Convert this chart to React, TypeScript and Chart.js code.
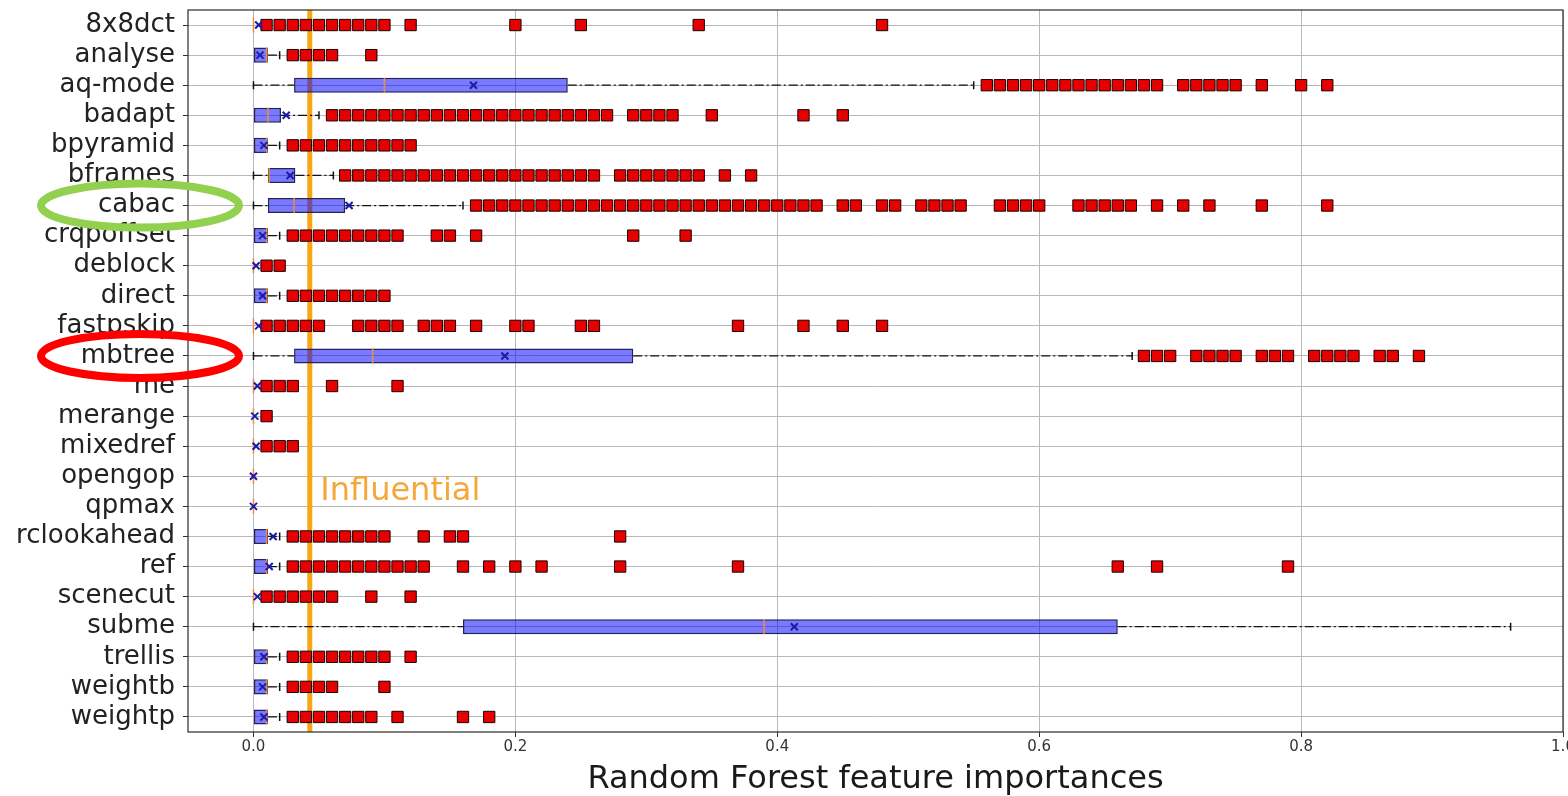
import React, { useEffect, useRef } from 'react';
import { Chart, registerables } from 'chart.js';

Chart.register(...registerables);

// ---------- data ----------
const features = [
  '8x8dct', 'analyse', 'aq-mode', 'badapt', 'bpyramid', 'bframes', 'cabac', 'crqpoffset',
  'deblock', 'direct', 'fastpskip', 'mbtree', 'me', 'merange', 'mixedref', 'opengop',
  'qpmax', 'rclookahead', 'ref', 'scenecut', 'subme', 'trellis', 'weightb', 'weightp',
];

const whiskerLow = [0, 0, 0, 0, 0, 0, 0, 0, 0, 0, 0, 0, 0, 0, 0, 0, 0, 0, 0, 0, 0, 0, 0, 0];
const q1 = [0, 0, 0.031, 0, 0, 0.011, 0.011, 0, 0, 0, 0, 0.031, 0, 0, 0, 0, 0, 0, 0, 0, 0.16, 0, 0, 0];
const medians = [0, 0.01, 0.1, 0.011, 0.01, 0.012, 0.031, 0.01, 0, 0.01, 0, 0.091, 0, 0, 0, 0, 0, 0.01, 0.01, 0, 0.39, 0.01, 0.01, 0.01];
const q3 = [0, 0.011, 0.24, 0.021, 0.011, 0.032, 0.07, 0.011, 0, 0.011, 0, 0.29, 0, 0, 0, 0, 0, 0.011, 0.011, 0, 0.66, 0.011, 0.011, 0.011];
const whiskerHigh = [0, 0.02, 0.55, 0.05, 0.02, 0.061, 0.16, 0.02, 0, 0.02, 0, 0.671, 0, 0, 0, 0, 0, 0.02, 0.02, 0, 0.96, 0.02, 0.02, 0.02];
const means = [0.004, 0.005, 0.168, 0.025, 0.008, 0.028, 0.073, 0.007, 0.002, 0.007, 0.004, 0.192, 0.003, 0.001, 0.002, 0, 0, 0.015, 0.012, 0.003, 0.413, 0.008, 0.007, 0.008];

const outliers: number[][] = [
  // 8x8dct
  [0.01, 0.02, 0.03, 0.04, 0.05, 0.06, 0.07, 0.08, 0.09, 0.1, 0.12, 0.2, 0.25, 0.34, 0.48],
  // analyse
  [0.03, 0.04, 0.05, 0.06, 0.09],
  // aq-mode
  [0.56, 0.57, 0.58, 0.59, 0.6, 0.61, 0.62, 0.63, 0.64, 0.65, 0.66, 0.67, 0.68, 0.69, 0.71, 0.72, 0.73, 0.74, 0.75, 0.77, 0.8, 0.82],
  // badapt
  [0.06, 0.07, 0.08, 0.09, 0.1, 0.11, 0.12, 0.13, 0.14, 0.15, 0.16, 0.17, 0.18, 0.19, 0.2, 0.21, 0.22, 0.23, 0.24, 0.25, 0.26, 0.27, 0.29, 0.3, 0.31, 0.32, 0.35, 0.42, 0.45],
  // bpyramid
  [0.03, 0.04, 0.05, 0.06, 0.07, 0.08, 0.09, 0.1, 0.11, 0.12],
  // bframes
  [0.07, 0.08, 0.09, 0.1, 0.11, 0.12, 0.13, 0.14, 0.15, 0.16, 0.17, 0.18, 0.19, 0.2, 0.21, 0.22, 0.23, 0.24, 0.25, 0.26, 0.28, 0.29, 0.3, 0.31, 0.32, 0.33, 0.34, 0.36, 0.38],
  // cabac
  [0.17, 0.18, 0.19, 0.2, 0.21, 0.22, 0.23, 0.24, 0.25, 0.26, 0.27, 0.28, 0.29, 0.3, 0.31, 0.32, 0.33, 0.34, 0.35, 0.36, 0.37, 0.38, 0.39, 0.4, 0.41, 0.42, 0.43, 0.45, 0.46, 0.48, 0.49, 0.51, 0.52, 0.53, 0.54, 0.57, 0.58, 0.59, 0.6, 0.63, 0.64, 0.65, 0.66, 0.67, 0.69, 0.71, 0.73, 0.77, 0.82],
  // crqpoffset
  [0.03, 0.04, 0.05, 0.06, 0.07, 0.08, 0.09, 0.1, 0.11, 0.14, 0.15, 0.17, 0.29, 0.33],
  // deblock
  [0.01, 0.02],
  // direct
  [0.03, 0.04, 0.05, 0.06, 0.07, 0.08, 0.09, 0.1],
  // fastpskip
  [0.01, 0.02, 0.03, 0.04, 0.05, 0.08, 0.09, 0.1, 0.11, 0.13, 0.14, 0.15, 0.17, 0.2, 0.21, 0.25, 0.26, 0.37, 0.42, 0.45, 0.48],
  // mbtree
  [0.68, 0.69, 0.7, 0.72, 0.73, 0.74, 0.75, 0.77, 0.78, 0.79, 0.81, 0.82, 0.83, 0.84, 0.86, 0.87, 0.89],
  // me
  [0.01, 0.02, 0.03, 0.06, 0.11],
  // merange
  [0.01],
  // mixedref
  [0.01, 0.02, 0.03],
  // opengop
  [],
  // qpmax
  [],
  // rclookahead
  [0.03, 0.04, 0.05, 0.06, 0.07, 0.08, 0.09, 0.1, 0.13, 0.15, 0.16, 0.28],
  // ref
  [0.03, 0.04, 0.05, 0.06, 0.07, 0.08, 0.09, 0.1, 0.11, 0.12, 0.13, 0.16, 0.18, 0.2, 0.22, 0.28, 0.37, 0.66, 0.69, 0.79],
  // scenecut
  [0.01, 0.02, 0.03, 0.04, 0.05, 0.06, 0.09, 0.12],
  // subme
  [],
  // trellis
  [0.03, 0.04, 0.05, 0.06, 0.07, 0.08, 0.09, 0.1, 0.12],
  // weightb
  [0.03, 0.04, 0.05, 0.06, 0.1],
  // weightp
  [0.03, 0.04, 0.05, 0.06, 0.07, 0.08, 0.09, 0.11, 0.16, 0.18],
];

const xTicks = [0, 0.2, 0.4, 0.6, 0.8, 1.0];
const influentialThreshold = 0.043;
const influentialLabel = 'Influential';
const xAxisTitle = 'Random Forest feature importances';
const highlightedGood = 'cabac';
const highlightedBad = 'mbtree';

// ---------- derived datasets ----------
const boxData = features.map((_, i) => [q1[i], q3[i]]);

const whiskerData: { x: number | null; y: string }[] = [];
features.forEach((f, i) => {
  if (whiskerLow[i] < q1[i]) {
    whiskerData.push({ x: whiskerLow[i], y: f }, { x: q1[i], y: f }, { x: null, y: f });
  }
  if (whiskerHigh[i] > q3[i]) {
    whiskerData.push({ x: q3[i], y: f }, { x: whiskerHigh[i], y: f }, { x: null, y: f });
  }
});

const capData: { x: number; y: string }[] = [];
features.forEach((f, i) => {
  if (whiskerLow[i] < q1[i]) capData.push({ x: whiskerLow[i], y: f });
  if (whiskerHigh[i] > q3[i]) capData.push({ x: whiskerHigh[i], y: f });
});

const medianData = features.map((f, i) => ({ x: medians[i], y: f }));
const meanData = features.map((f, i) => ({ x: means[i], y: f }));
const outlierData: { x: number; y: string }[] = [];
features.forEach((f, i) => outliers[i].forEach((v) => outlierData.push({ x: v, y: f })));

const FONT = '"DejaVu Sans", "Noto Sans", sans-serif';

const annotationPlugin = {
  id: 'boxAnnotations',
  beforeDatasetsDraw(chart: any) {
    const { ctx, chartArea, scales } = chart;
    const x = scales.x.getPixelForValue(influentialThreshold);
    ctx.save();
    ctx.strokeStyle = '#F7A614';
    ctx.lineWidth = 5;
    ctx.beginPath();
    ctx.moveTo(x, chartArea.top);
    ctx.lineTo(x, chartArea.bottom);
    ctx.stroke();
    ctx.restore();
  },
  afterDatasetsDraw(chart: any) {
    const { ctx, scales } = chart;
    const x = scales.x.getPixelForValue(0.051);
    const iOpengop = features.indexOf('opengop');
    const y = scales.y.getPixelForValue(iOpengop + 0.5);
    ctx.save();
    ctx.fillStyle = '#F5A83A';
    ctx.font = `32px ${FONT}`;
    ctx.textAlign = 'left';
    ctx.textBaseline = 'middle';
    ctx.fillText(influentialLabel, x, y);
    ctx.restore();
  },
  afterDraw(chart: any) {
    const { ctx, chartArea, scales } = chart;
    ctx.save();
    ctx.strokeStyle = '#2b2b2b';
    ctx.lineWidth = 1.2;
    ctx.strokeRect(chartArea.left, chartArea.top, chartArea.right - chartArea.left, chartArea.bottom - chartArea.top);

    const cx = chartArea.left - 48;
    const drawEllipse = (name: string, color: string) => {
      const cy = scales.y.getPixelForValue(features.indexOf(name));
      ctx.strokeStyle = color;
      ctx.lineWidth = 8;
      ctx.beginPath();
      ctx.ellipse(cx, cy, 99, 22, 0, 0, Math.PI * 2);
      ctx.stroke();
    };
    drawEllipse(highlightedGood, '#92D050');
    drawEllipse(highlightedBad, '#FF0000');
    ctx.restore();
  },
};

export default function App() {
  const ref = useRef<HTMLCanvasElement>(null);

  useEffect(() => {
    document.body.style.margin = '0';
    document.body.style.background = '#ffffff';
    const canvas = ref.current;
    if (!canvas) return;

    const chart = new Chart(canvas, {
      type: 'bar',
      data: {
        labels: features,
        datasets: [
          {
            type: 'bar',
            label: 'boxes',
            data: boxData as any,
            backgroundColor: 'rgba(0,0,255,0.52)',
            borderColor: '#22225e',
            borderWidth: 1.5,
            borderSkipped: false,
            barPercentage: 0.5,
            categoryPercentage: 1.0,
            order: 3,
          } as any,
          {
            type: 'line',
            label: 'whiskers',
            data: whiskerData as any,
            borderColor: '#111111',
            borderWidth: 1.2,
            borderDash: [9, 3, 2, 3],
            pointRadius: 0,
            spanGaps: false,
            tension: 0,
            fill: false,
            order: 5,
          } as any,
          {
            type: 'scatter',
            label: 'caps',
            data: capData as any,
            pointStyle: 'line',
            pointRotation: 90,
            pointRadius: 4,
            pointBorderColor: '#111111',
            pointBorderWidth: 1.5,
            order: 4,
          } as any,
          {
            type: 'scatter',
            label: 'medians',
            data: medianData as any,
            pointStyle: 'line',
            pointRotation: 90,
            pointRadius: 7.5,
            pointBorderColor: '#F08A3C',
            pointBorderWidth: 1.5,
            order: 2,
          } as any,
          {
            type: 'scatter',
            label: 'outliers',
            data: outlierData as any,
            pointStyle: 'rect',
            pointRadius: 8,
            pointBackgroundColor: '#E60000',
            pointBorderColor: '#1a0000',
            pointBorderWidth: 1,
            order: 1,
          } as any,
          {
            type: 'scatter',
            label: 'means',
            data: meanData as any,
            pointStyle: 'crossRot',
            pointRadius: 5,
            pointBorderColor: '#1b1ba8',
            pointBorderWidth: 2,
            order: 0,
          } as any,
        ],
      },
      options: {
        indexAxis: 'y',
        responsive: false,
        devicePixelRatio: 1,
        animation: false,
        events: [],
        layout: { autoPadding: false, padding: { top: 10, right: 5, left: 0, bottom: 0 } },
        plugins: {
          legend: { display: false },
          tooltip: { enabled: false },
        },
        scales: {
          y: {
            type: 'category',
            offset: true,
            border: { display: false },
            grid: {
              offset: false,
              color: '#b8b8b8',
              lineWidth: 1,
              drawTicks: true,
              tickLength: 5,
              tickColor: '#333333',
            },
            ticks: {
              autoSkip: false,
              padding: 8,
              color: '#222222',
              font: { family: FONT, size: 26, lineHeight: 1 },
            },
            afterFit: (scale: any) => {
              scale.width = 188;
              scale.paddingTop = 0;
              scale.paddingBottom = 0;
            },
          },
          x: {
            type: 'linear',
            min: -0.05,
            max: 1.0,
            border: { display: false },
            grid: {
              color: '#b8b8b8',
              lineWidth: 1,
              drawTicks: true,
              tickLength: 5,
              tickColor: '#333333',
            },
            afterBuildTicks: (scale: any) => {
              scale.ticks = xTicks.map((v) => ({ value: v }));
            },
            ticks: {
              padding: 3,
              color: '#333333',
              maxRotation: 0,
              font: { family: FONT, size: 15, lineHeight: 1 },
              callback: (v: any) => Number(v).toFixed(1),
            },
            title: {
              display: true,
              text: xAxisTitle,
              color: '#1a1a1a',
              font: { family: FONT, size: 32, lineHeight: 1 },
              padding: { top: 0, bottom: 0 },
            },
            afterFit: (scale: any) => {
              scale.height = 64;
              scale.paddingLeft = 0;
              scale.paddingRight = 0;
            },
          },
        },
      } as any,
      plugins: [annotationPlugin],
    });

    return () => chart.destroy();
  }, []);

  return (
    <div style={{ width: 1568, height: 796, background: '#ffffff' }}>
      <canvas ref={ref} width={1568} height={796} style={{ display: 'block', width: 1568, height: 796 }} />
    </div>
  );
}
